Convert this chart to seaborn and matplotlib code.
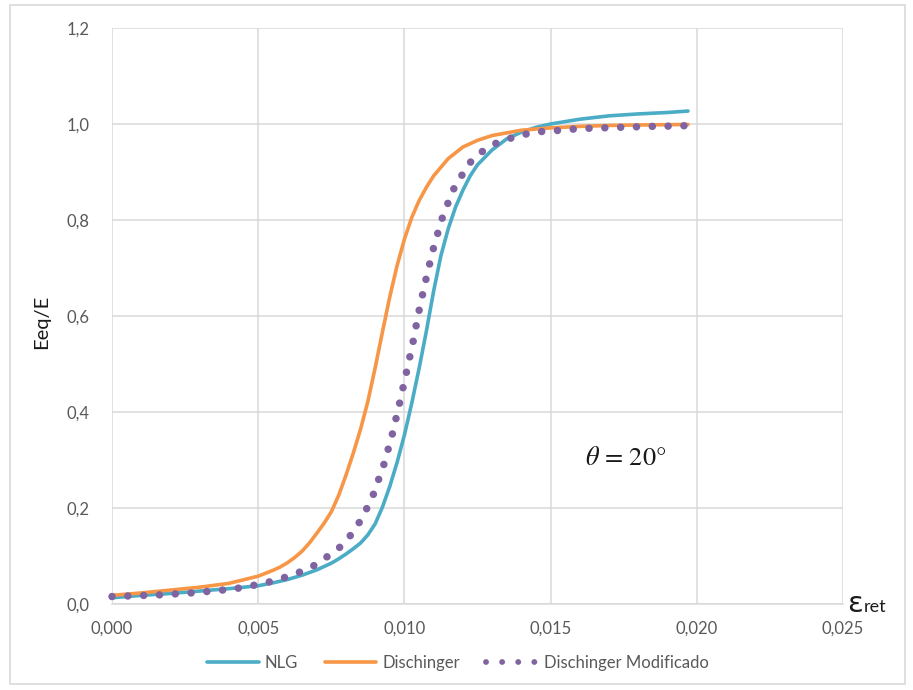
import matplotlib
matplotlib.use("Agg")
import matplotlib.pyplot as plt
import seaborn as sns
import numpy as np
import pandas as pd
from matplotlib.lines import Line2D
from matplotlib.patches import Rectangle
from matplotlib.ticker import FuncFormatter

# ---- data (eps in units of 1e-3) ----
nlg_eps = [0.0, 1.0, 2.0, 3.0, 4.0, 5.0, 5.5, 6.0, 6.5, 7.0, 7.5, 7.75, 8.0, 8.25, 8.5,
           8.75, 9.0, 9.25, 9.5, 9.75, 10.0, 10.25, 10.5, 10.75, 11.0, 11.25, 11.5, 11.75,
           12.0, 12.25, 12.5, 13.0, 13.5, 14.0, 14.5, 15.0, 16.0, 17.0, 18.0, 19.0, 19.7]
nlg_val = [0.013, 0.018, 0.022, 0.027, 0.032, 0.038, 0.044, 0.051, 0.060, 0.071, 0.085,
           0.094, 0.104, 0.115, 0.127, 0.144, 0.167, 0.202, 0.245, 0.295, 0.352, 0.418,
           0.490, 0.568, 0.652, 0.726, 0.782, 0.827, 0.862, 0.892, 0.915, 0.946, 0.969,
           0.983, 0.993, 1.000, 1.010, 1.017, 1.021, 1.024, 1.027]

dis_eps = [0.0, 1.0, 2.0, 3.0, 4.0, 5.0, 5.5, 5.75, 6.0, 6.25, 6.5, 6.75, 7.0, 7.25, 7.5,
           7.75, 8.0, 8.25, 8.5, 8.75, 9.0, 9.25, 9.5, 9.75, 10.0, 10.25, 10.5, 10.75,
           11.0, 11.5, 12.0, 12.5, 13.0, 14.0, 15.0, 16.0, 17.0, 18.0, 19.7]
dis_val = [0.018, 0.023, 0.029, 0.035, 0.043, 0.058, 0.070, 0.077, 0.086, 0.097, 0.110,
           0.127, 0.147, 0.168, 0.192, 0.226, 0.268, 0.314, 0.364, 0.422, 0.492, 0.567,
           0.640, 0.705, 0.760, 0.805, 0.840, 0.868, 0.892, 0.928, 0.952, 0.966, 0.976,
           0.987, 0.992, 0.995, 0.997, 0.998, 0.999]

mod_eps = [0.0, 1.63, 2.7, 3.24, 3.78, 4.32, 4.85, 5.38, 5.89, 6.4, 6.88, 7.3, 7.77, 8.12,
           8.43, 8.69, 8.93, 9.29, 9.58, 9.83, 10.06, 10.29, 10.49, 10.72, 10.97, 11.27,
           11.65, 12.2, 12.6, 13.05, 13.55, 14.07, 14.6, 15.15, 15.7, 16.3, 17.3, 18.4,
           19.48, 19.7]
mod_val = [0.0155, 0.019, 0.023, 0.026, 0.029, 0.033, 0.039, 0.046, 0.055, 0.066, 0.079,
           0.096, 0.117, 0.140, 0.167, 0.196, 0.227, 0.289, 0.352, 0.417, 0.480, 0.544,
           0.608, 0.672, 0.736, 0.800, 0.861, 0.917, 0.940, 0.958, 0.969, 0.978, 0.984,
           0.986, 0.989, 0.991, 0.993, 0.995, 0.996, 0.997]

series_names = ["NLG", "Dischinger", "Dischinger Modificado"]
colors = ["#4BACC6", "#F79646", "#8064A2"]
x_ticks = [0.000, 0.005, 0.010, 0.015, 0.020, 0.025]
y_ticks = [0.0, 0.2, 0.4, 0.6, 0.8, 1.0, 1.2]

sns.set_theme(style="white")
plt.rcParams["font.family"] = ["Lato", "DejaVu Sans"]
plt.rcParams["mathtext.fontset"] = "stix"

W, H = 913, 690
fig = plt.figure(figsize=(W / 100, H / 100), dpi=100)
ax = fig.add_axes([112 / W, 1 - 604 / H, (843 - 112) / W, (604 - 28) / H])

# outer chart border
fig.patches.append(Rectangle((10 / W, 1 - 684 / H), (905 - 10) / W, (684 - 5) / H,
                             transform=fig.transFigure, fill=False,
                             edgecolor="#d9d9d9", lw=1.2))

df_nlg = pd.DataFrame({"eps": np.array(nlg_eps) * 1e-3, "E": nlg_val})
df_dis = pd.DataFrame({"eps": np.array(dis_eps) * 1e-3, "E": dis_val})
df_mod = pd.DataFrame({"eps": np.array(mod_eps) * 1e-3, "E": mod_val})

sns.lineplot(data=df_nlg, x="eps", y="E", ax=ax, color=colors[0], lw=2.6,
             estimator=None, sort=False, clip_on=False, zorder=3)
sns.lineplot(data=df_dis, x="eps", y="E", ax=ax, color=colors[1], lw=2.6,
             estimator=None, sort=False, clip_on=False, zorder=3)
sns.lineplot(data=df_mod, x="eps", y="E", ax=ax, color=colors[2], lw=5.4,
             linestyle=(0, (0.01, 2.1)), dash_capstyle="round",
             estimator=None, sort=False, clip_on=False, zorder=4)

ax.set_xlim(0, 0.025)
ax.set_ylim(0, 1.2)
ax.set_xticks(x_ticks)
ax.set_yticks(y_ticks)
ax.xaxis.set_major_formatter(FuncFormatter(lambda v, p: f"{v:.3f}".replace(".", ",")))
ax.yaxis.set_major_formatter(FuncFormatter(lambda v, p: f"{v:.1f}".replace(".", ",")))
ax.grid(True, color="#d9d9d9", lw=1.1)
for s in ax.spines.values():
    s.set_visible(False)
ax.spines["bottom"].set_visible(True)
ax.spines["bottom"].set_color("#d9d9d9")
ax.spines["bottom"].set_linewidth(1.1)
ax.tick_params(axis="both", length=0, labelsize=12, labelcolor="#595959")
ax.tick_params(axis="x", pad=12)
ax.tick_params(axis="y", pad=16)
ax.set_xlabel("")
ax.set_ylabel("Eeq/E", fontsize=14.5, color="#1a1a1a")
ax.yaxis.set_label_coords(-0.084, 0.49)

# x-axis title
fig.text(847 / W, 1 - 612 / H, "ε", fontsize=21, color="#1a1a1a", ha="left", va="baseline",
         family=["DejaVu Sans"])
fig.text(864 / W, 1 - 612 / H, "ret", fontsize=13, color="#1a1a1a", ha="left",
         va="baseline")

ax.text(0.01758, 0.302, r"$\theta$ = 20°", fontsize=19, ha="center", va="center",
        color="#1a1a1a", family=["STIXGeneral"])

handles = [Line2D([], [], color=colors[0], lw=2.6),
           Line2D([], [], color=colors[1], lw=2.6),
           Line2D([], [], color=colors[2], lw=4.2, linestyle=(0, (0.01, 2.75)),
                  dash_capstyle="round")]
leg = fig.legend(handles, series_names, loc="center", bbox_to_anchor=(458 / W, 1 - 663 / H),
                 ncol=3, frameon=False, fontsize=12, handlelength=3.1, columnspacing=1.6,
                 handletextpad=0.35)
for t in leg.get_texts():
    t.set_color("#595959")

fig.savefig("out.png", dpi=100)
